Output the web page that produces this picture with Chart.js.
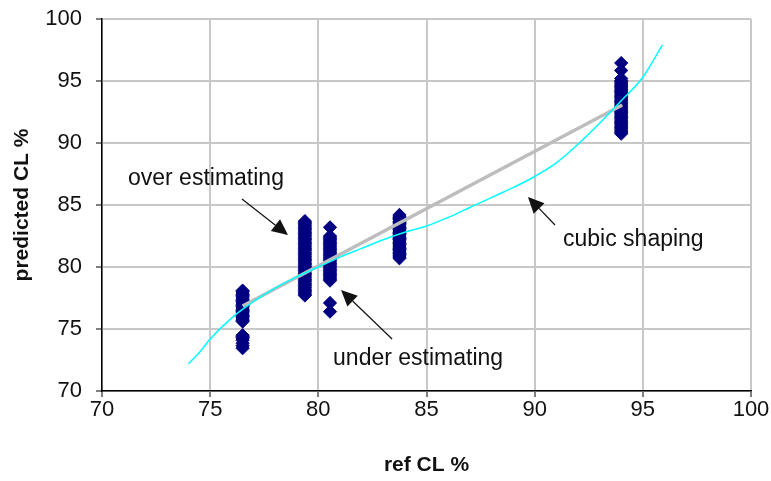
<!DOCTYPE html>
<html>
<head>
<meta charset="utf-8">
<script src="https://cdn.jsdelivr.net/npm/chart.js@4/dist/chart.umd.min.js"></script>
<style>
  html, body { margin: 0; padding: 0; background: #ffffff; }
  #wrap { width: 771px; height: 481px; }
</style>
</head>
<body>
<div id="wrap"><canvas id="c" width="771" height="481"></canvas></div>
<script>
// ---- data ----
const tickValues = [70, 75, 80, 85, 90, 95, 100];

// measured points (predicted vs ref), one column per ref value
const col1X = 76.5;
const col1Y = [78.1, 78.0, 77.9, 77.8, 77.7, 77.6, 77.5, 77.4, 77.3, 77.2, 77.1, 77.0, 76.9, 76.8,
               76.7, 76.6, 76.5, 76.4, 76.3, 76.2, 76.1, 76.0, 75.9, 75.8, 75.7, 75.6,
               74.5, 74.4, 74.3, 74.2, 74.1, 73.85, 73.65, 73.45];
const col2X = 79.38;
const col2Y = [83.7, 83.6, 83.5, 83.4, 83.3, 83.2, 83.1, 83.0, 82.9, 82.8, 82.7, 82.6, 82.5, 82.4,
               82.3, 82.2, 82.1, 82.0, 81.9, 81.8, 81.7, 81.6, 81.5, 81.4, 81.3, 81.2, 81.1, 81.0,
               80.9, 80.8, 80.7, 80.6, 80.5, 80.4, 80.3, 80.2, 80.1, 80.0, 79.9, 79.8, 79.7, 79.6,
               79.5, 79.4, 79.3, 79.2, 79.1, 79.0, 78.9, 78.8, 78.7, 78.6, 78.5, 78.4, 78.3, 78.2,
               78.1, 78.0, 77.9, 77.8, 77.7];
const col3X = 80.54;
const col3Y = [83.2, 82.5, 82.4, 82.3, 82.2, 82.1, 82.0, 81.9, 81.8, 81.7, 81.6, 81.5, 81.4, 81.3,
               81.2, 81.1, 81.0, 80.9, 80.8, 80.7, 80.6, 80.5, 80.4, 80.3, 80.2, 80.1, 80.0, 79.9,
               79.8, 79.7, 79.6, 79.5, 79.4, 79.3, 79.2, 79.1, 79.0, 78.9, 77.1, 76.4];
const col4X = 83.75;
const col4Y = [84.2, 84.1, 84.0, 83.9, 83.8, 83.7, 83.6, 83.5, 83.4, 83.3, 83.2, 83.1, 83.0, 82.9,
               82.8, 82.7, 82.6, 82.5, 82.4, 82.3, 82.2, 82.1, 82.0, 81.9, 81.8, 81.7, 81.6, 81.5,
               81.4, 81.3, 81.2, 81.1, 81.0, 80.9, 80.8, 80.7];
const col5X = 94.0;
const col5Y = [96.45, 95.85, 95.2, 95.05, 94.95, 94.85, 94.75, 94.65, 94.55, 94.45, 94.35, 94.25,
               94.15, 94.05, 93.95, 93.85, 93.75, 93.65, 93.55, 93.45, 93.35, 93.25, 93.15, 93.05,
               92.95, 92.85, 92.75, 92.65, 92.55, 92.45, 92.35, 92.25, 92.15, 92.05, 91.95, 91.85,
               91.75, 91.65, 91.55, 91.45, 91.35, 91.25, 91.15, 91.05, 90.95, 90.85, 90.75];

// linear fit (grey line)
const linearX = [76.5, 94.05];
const linearY = [76.85, 93.06];

// cubic shaping (cyan line)
const cubicX = [74, 74.5, 75, 76, 77, 78, 79, 80, 81, 82, 83, 84, 85, 86, 87, 88, 89, 90, 91, 92, 93, 94, 95, 95.9];
const cubicY = [72.2, 73.1, 74.2, 75.9, 77.2, 78.3, 79.2, 80.0, 80.8, 81.5, 82.2, 82.8, 83.3, 84.0, 84.8, 85.6, 86.4, 87.3, 88.4, 89.9, 91.6, 93.4, 95.3, 97.9];

// annotations (data coordinates)
const notes = [
  { text: 'over estimating',  tx: 71.2,  ty: 86.6, from: [76.47, 85.48], to: [78.6, 82.58] },
  { text: 'under estimating', tx: 80.68, ty: 72.1, from: [83.41, 74.19], to: [81.05, 78.15] },
  { text: 'cubic shaping',    tx: 91.31, ty: 81.7, from: [90.94, 83.39], to: [89.69, 85.65] }
];

// ---- build datasets ----
function pts(xs, ys) { return xs.map((x, i) => ({ x: x, y: ys[i] })); }
function col(x, ys) { return ys.map(y => ({ x: x, y: y })); }
const scatterPts = [].concat(col(col1X, col1Y), col(col2X, col2Y), col(col3X, col3Y), col(col4X, col4Y), col(col5X, col5Y));

const bgPlugin = {
  id: 'bg',
  beforeDraw(chart) {
    const ctx = chart.ctx;
    ctx.save();
    ctx.fillStyle = '#ffffff';
    ctx.fillRect(0, 0, chart.width, chart.height);
    ctx.restore();
  }
};

const notePlugin = {
  id: 'notes',
  afterDatasetsDraw(chart) {
    const ctx = chart.ctx;
    const xs = chart.scales.x, ys = chart.scales.y;
    ctx.save();
    ctx.font = '23px "Liberation Sans", Arial, sans-serif';
    ctx.fillStyle = '#111';
    ctx.strokeStyle = '#111';
    ctx.textBaseline = 'alphabetic';
    ctx.textAlign = 'left';
    notes.forEach(n => {
      ctx.fillText(n.text, xs.getPixelForValue(n.tx), ys.getPixelForValue(n.ty));
      const x0 = xs.getPixelForValue(n.from[0]), y0 = ys.getPixelForValue(n.from[1]);
      const x1 = xs.getPixelForValue(n.to[0]), y1 = ys.getPixelForValue(n.to[1]);
      const ang = Math.atan2(y1 - y0, x1 - x0);
      const hl = 16, hw = 7.5;
      const bx = x1 - hl * Math.cos(ang), by = y1 - hl * Math.sin(ang);
      ctx.lineWidth = 1.2;
      ctx.beginPath();
      ctx.moveTo(x0, y0);
      ctx.lineTo(bx, by);
      ctx.stroke();
      ctx.beginPath();
      ctx.moveTo(x1, y1);
      ctx.lineTo(bx + hw * Math.sin(ang), by - hw * Math.cos(ang));
      ctx.lineTo(bx - hw * Math.sin(ang), by + hw * Math.cos(ang));
      ctx.closePath();
      ctx.fill();
    });
    ctx.restore();
  }
};

const tickFont = { family: '"Liberation Sans", Arial, sans-serif', size: 22 };
const titleFont = { family: '"Liberation Sans", Arial, sans-serif', size: 21, weight: 'bold' };

new Chart(document.getElementById('c'), {
  type: 'scatter',
  data: {
    datasets: [
      {
        label: 'cubic',
        data: pts(cubicX, cubicY),
        showLine: true,
        borderColor: '#00ffff',
        borderWidth: 1.5,
        pointRadius: 0,
        cubicInterpolationMode: 'monotone',
        fill: false
      },
      {
        label: 'linear',
        data: pts(linearX, linearY),
        showLine: true,
        borderColor: '#bdbdbd',
        borderWidth: 3.5,
        pointRadius: 0,
        fill: false
      },
      {
        label: 'measured',
        data: scatterPts,
        pointStyle: 'rectRot',
        pointRadius: 6.6,
        backgroundColor: '#000080',
        borderColor: '#000080',
        borderWidth: 1
      }
    ]
  },
  options: {
    responsive: false,
    devicePixelRatio: 1,
    animation: false,
    layout: { padding: { left: 0, top: 19, right: 20, bottom: 0 } },
    plugins: {
      legend: { display: false },
      tooltip: { enabled: false }
    },
    scales: {
      x: {
        type: 'linear',
        min: 70, max: 100,
        afterBuildTicks: s => { s.ticks = tickValues.map(v => ({ value: v })); },
        afterFit: s => { s.height = 90; s.paddingLeft = 0; s.paddingRight = 0; },
        ticks: { font: tickFont, color: '#111', padding: 0, maxRotation: 0 },
        grid: { color: '#c8c8c8', lineWidth: 2, tickColor: '#000', tickLength: 6, tickWidth: 1 },
        border: { color: '#000', width: 1.5 },
        title: { display: true, text: 'ref CL %', font: titleFont, color: '#111', padding: { top: 0, bottom: 3 } }
      },
      y: {
        type: 'linear',
        min: 70, max: 100,
        afterBuildTicks: s => { s.ticks = tickValues.map(v => ({ value: v })); },
        afterFit: s => { s.width = 102; s.paddingTop = 0; s.paddingBottom = 0; },
        ticks: { font: tickFont, color: '#111', padding: 14 },
        grid: { color: '#c8c8c8', lineWidth: 2, tickColor: '#000', tickLength: 6, tickWidth: 1 },
        border: { color: '#000', width: 1.5 },
        title: { display: true, text: 'predicted CL %', font: titleFont, color: '#111', padding: { top: 10, bottom: 0 } }
      }
    }
  },
  plugins: [bgPlugin, notePlugin]
});
</script>
</body>
</html>
